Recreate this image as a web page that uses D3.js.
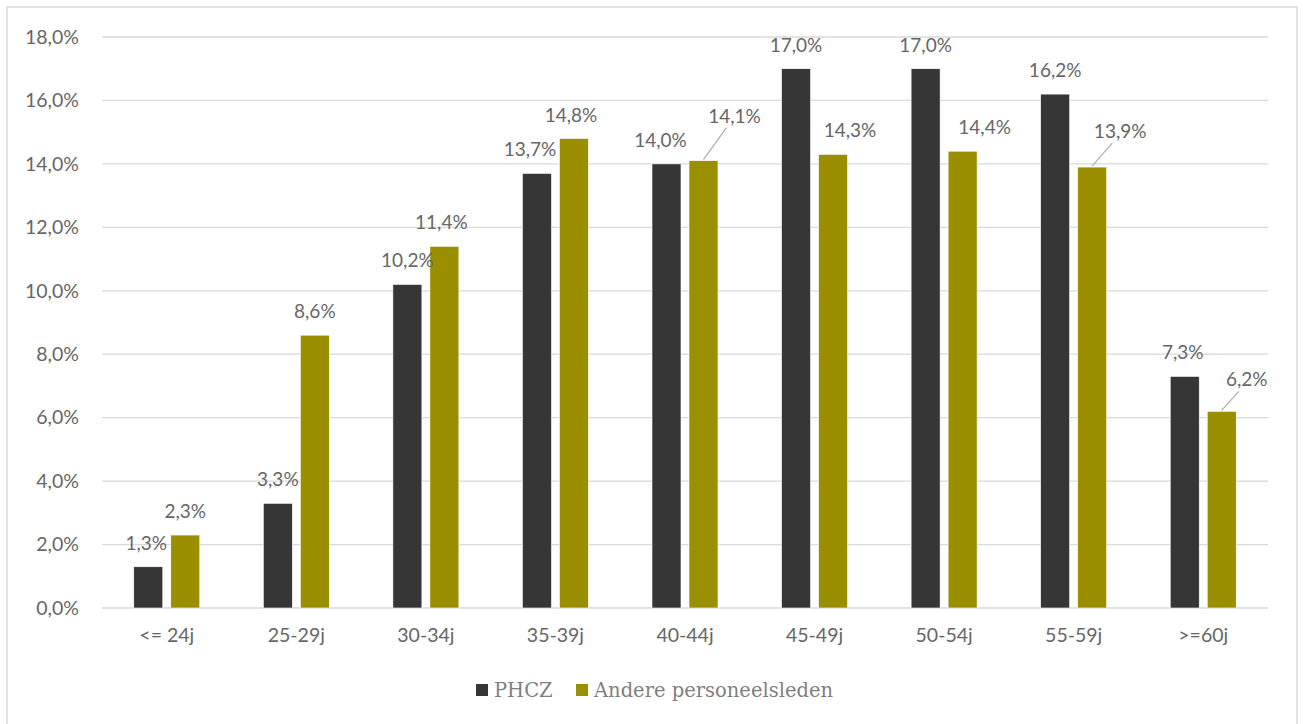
<!DOCTYPE html>
<html><head><meta charset="utf-8">
<script src="https://cdn.jsdelivr.net/npm/d3@7"></script>
<style>
html,body{margin:0;padding:0;background:#fff;}
svg{display:block;}
</style></head>
<body>
<svg id="chart" width="1304" height="724"></svg>
<script>
const categories = ["<= 24j","25-29j","30-34j","35-39j","40-44j","45-49j","50-54j","55-59j",">=60j"];
const seriesNames = ["PHCZ","Andere personeelsleden"];
const phcz = [1.3,3.3,10.2,13.7,14.0,17.0,17.0,16.2,7.3];
const andere = [2.3,8.6,11.4,14.8,14.1,14.3,14.4,13.9,6.2];
const yTicks = [0,2,4,6,8,10,12,14,16,18];

// label nudges (layout only): [dx, dy, leader]
const nudgePHCZ = [[-2,0,0],[0,0,0],[0,0,0],[-7,0,0],[-6,0,0],[0,0,0],[0,0,0],[0,0,0],[-2,0,0]];
const nudgeAndere = [[0,0,0],[0,0,0],[-3,0,0],[-3,0,0],[31,-21,1],[17,0,0],[22,0,0],[28,-12,1],[25,-8,1]];

const colors = ["#363636","#998f00"];
const svg = d3.select("#chart");
const W = 1304, H = 724;
const m = {left:102, right:36, top:37, bottom:116};
const pw = W - m.left - m.right, ph = H - m.top - m.bottom;

svg.append("rect").attr("x",7).attr("y",7).attr("width",1290).attr("height",730)
  .attr("fill","#fff").attr("stroke","#d9d9d9").attr("stroke-width",1.5);

const x0 = d3.scaleBand().domain(categories).range([m.left, m.left+pw]).padding(0);
const y = d3.scaleLinear().domain([0,18]).range([m.top+ph, m.top]);

const g = svg.append("g");
const sansFont = "Lato, 'Open Sans', sans-serif";

// gridlines
g.selectAll("line.grid").data(yTicks).join("line")
  .attr("x1",m.left).attr("x2",m.left+pw)
  .attr("y1",d=>y(d)).attr("y2",d=>y(d))
  .attr("stroke","#d9d9d9").attr("stroke-width",1.3);

// y axis labels
const yAxis = d3.axisLeft(y).tickValues(yTicks).tickSize(0).tickPadding(23)
  .tickFormat(d=>d.toFixed(1).replace(".",",")+"%");
const ya = svg.append("g").attr("transform",`translate(${m.left},0)`).call(yAxis);
ya.select(".domain").remove();
ya.selectAll("text").attr("font-family",sansFont).attr("font-size",19.5).attr("fill","#666");

// x axis labels
const xAxis = d3.axisBottom(x0).tickSize(0).tickPadding(20);
const xa = svg.append("g").attr("transform",`translate(0,${m.top+ph})`).call(xAxis);
xa.select(".domain").remove();
xa.selectAll("text").attr("font-family",sansFont).attr("font-size",19.5).attr("fill","#666");

const bw = 29, gap = 8;
const series = [phcz, andere];
const nudges = [nudgePHCZ, nudgeAndere];
series.forEach((vals, si) => {
  const off = si === 0 ? -(gap/2 + bw) : gap/2;
  const cx = (c) => x0(c) + x0.bandwidth()/2 + off;
  g.selectAll(null).data(vals).join("rect")
    .attr("x",(d,i)=>cx(categories[i]))
    .attr("y",d=>y(d))
    .attr("width",bw)
    .attr("height",d=>y(0)-y(d))
    .attr("fill",colors[si])
    .attr("stroke","#fff").attr("stroke-width",0.6);
  vals.forEach((d,i)=>{
    const n = nudges[si][i];
    const bx = cx(categories[i]) + bw/2;
    const by = y(d);
    const lx = bx + n[0], ly = by - 17 + n[1];
    if (n[2]) {
      svg.append("line")
        .attr("x1",bx).attr("y1",by-1)
        .attr("x2",lx-8).attr("y2",ly+5)
        .attr("stroke","#b0b0b0").attr("stroke-width",1.3);
    }
    svg.append("text").attr("x",lx).attr("y",ly)
      .attr("text-anchor","middle")
      .attr("font-family",sansFont).attr("font-size",19).attr("fill","#666")
      .text(d.toFixed(1).replace(".",",")+"%");
  });
});

// legend
const legend = svg.append("g");
const legItems = [{x:476,name:seriesNames[0],c:colors[0]},{x:576,name:seriesNames[1],c:colors[1]}];
legItems.forEach(it=>{
  legend.append("rect").attr("x",it.x).attr("y",684).attr("width",12).attr("height",12).attr("fill",it.c);
  legend.append("text").attr("x",it.x+18).attr("y",697)
    .attr("font-family","'DejaVu Serif', 'Liberation Serif', serif").attr("font-size",19.5)
    .attr("fill","#7f7f7f").text(it.name);
});
</script>
</body></html>
